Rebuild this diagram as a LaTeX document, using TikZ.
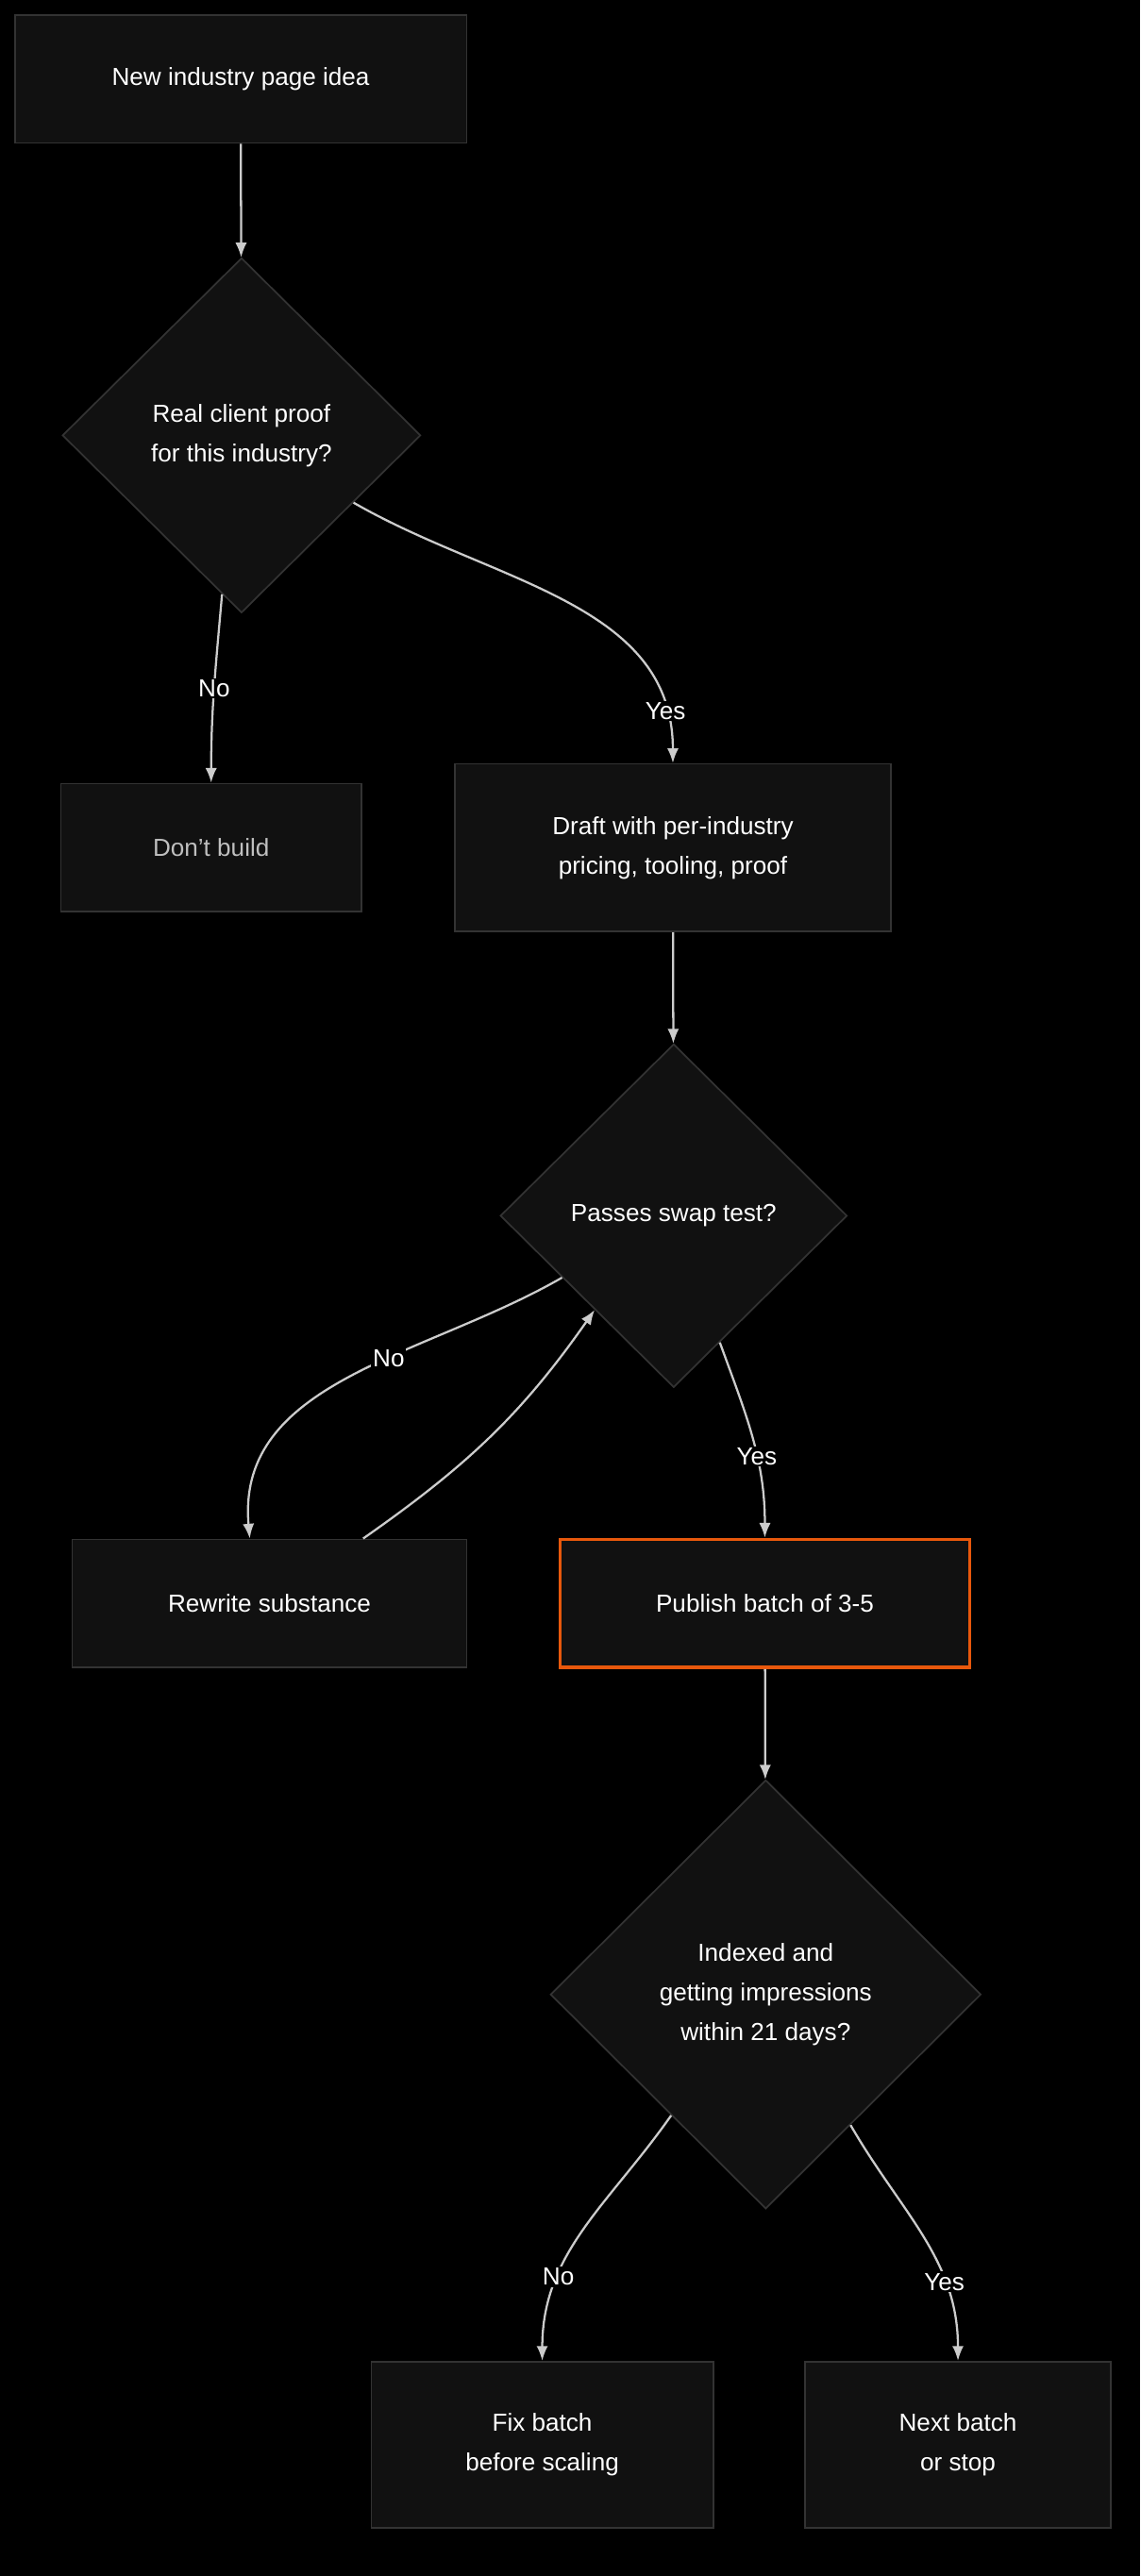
\documentclass[tikz,border=0pt]{standalone}
\usepackage{fontspec}
\setmainfont{Liberation Sans}
\usetikzlibrary{arrows.meta, shapes.geometric}
\definecolor{boxfill}{HTML}{111111}
\definecolor{boxline}{HTML}{333333}
\definecolor{edge}{HTML}{CCCCCC}
\definecolor{hot}{HTML}{E8580C}
\tikzset{
  task/.style={draw=boxline, fill=boxfill, line width=1pt, text=white, align=center, inner sep=0pt},
  ask/.style={diamond, draw=boxline, fill=boxfill, line width=1pt, text=white, align=center, inner sep=0pt},
  flow/.style={draw=edge, line width=1.3pt, -{Latex[length=9pt,width=7pt]}},
  tag/.style={fill=black, text=white, inner sep=1pt},
}
\begin{document}
\begin{tikzpicture}[x=1pt, y=-1pt, font=\fontsize{15}{24}\selectfont]
\fill[black] (0,0) rectangle (694,1568);
\useasboundingbox (0,0) rectangle (694,1568);
% boxes and questions
\node[task, minimum width=275, minimum height=78] (idea) at (146.5,48) {New industry page idea};
\node[ask, minimum width=218, minimum height=216] (proof) at (147,265) {Real client proof\\for this industry?};
\node[task, minimum width=183, minimum height=78, text=white!75!black] (nobuild) at (128.5,516) {Don't build};
\node[task, minimum width=265, minimum height=102] (draft) at (409.5,516) {Draft with per-industry\\pricing, tooling, proof};
\node[ask, minimum width=211, minimum height=209] (swap) at (410,740) {Passes swap test?};
\node[task, minimum width=240, minimum height=78] (rewrite) at (164,976) {Rewrite substance};
\node[task, draw=hot, line width=2pt, minimum width=249, minimum height=78] (publish) at (465.5,976) {Publish batch of 3-5};
\node[ask, minimum width=262, minimum height=261] (indexed) at (466,1214) {Indexed and\\getting impressions\\within 21 days?};
\node[task, minimum width=208, minimum height=101] (fix) at (330,1488) {Fix batch\\before scaling};
\node[task, minimum width=186, minimum height=101] (next) at (583,1488) {Next batch\\or stop};
% connectors
\draw[flow] (idea) -- (proof);
\draw[flow] (proof.-97) to[out=-95, in=90] node[tag, pos=0.5] {No} (nobuild.north);
\draw[flow] (proof.-31) to[out=-30, in=90] node[tag, pos=0.88] {Yes} (draft.north);
\draw[flow] (draft) -- (swap);
\draw[flow] (swap.-151) to[out=-150, in=95] node[tag, pos=0.4] {No} ([xshift=-12pt]rewrite.north);
\draw[flow] ([xshift=57pt]rewrite.north) to[out=35, in=-125] (swap.-130);
\draw[flow] (swap.-70) to[out=-70, in=90] node[tag, pos=0.6] {Yes} (publish.north);
\draw[flow] (publish) -- (indexed);
\draw[flow] (indexed.-128) to[out=-125, in=90] node[tag, pos=0.7] {No} (fix.north);
\draw[flow] (indexed.-57) to[out=-60, in=90] node[tag, pos=0.7] {Yes} (next.north);
\end{tikzpicture}
\end{document}
